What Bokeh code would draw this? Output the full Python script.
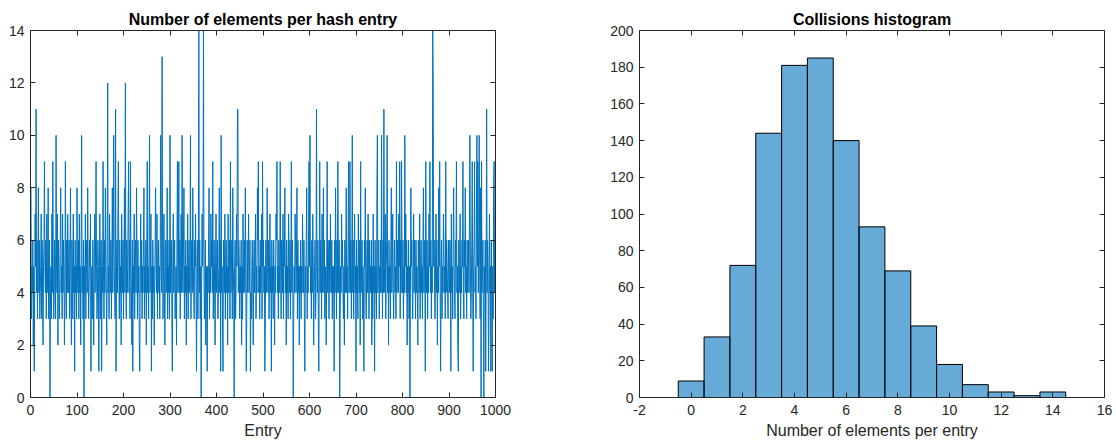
from bokeh.plotting import figure
from bokeh.layouts import row
from bokeh.models import LinearAxis, FixedTicker, Range1d, ColumnDataSource
from bokeh.embed import file_html
from bokeh.resources import INLINE

# ---- data ----
entry_values = [
    8, 3, 5, 4, 6, 2, 5, 1, 4, 7,   5, 11, 4, 6, 3, 5, 8, 4, 6, 3,
    4, 5, 7, 3, 6, 4, 2, 5, 6, 9,   5, 4, 6, 3, 7, 5, 4, 8, 3, 5,
    6, 0, 4, 5, 3, 7, 4, 9, 5, 3,
    4, 6, 5, 3, 10, 5, 4, 7, 2, 6,  5, 3, 4, 6, 8, 4, 5, 3, 7, 4,
    6, 5, 2, 4, 9, 5, 3, 6, 4, 7,   5, 4, 6, 3, 5, 8, 4, 2, 6, 5,
    3, 7, 4, 5, 1, 6, 4, 5, 3, 8,
    5, 4, 6, 3, 7, 4, 5, 2, 6, 10,  4, 5, 3, 6, 0, 5, 4, 7, 3, 5,
    6, 4, 8, 5, 3, 4, 6, 5, 7, 1,   4, 5, 3, 6, 4, 2, 5, 7, 4, 6,
    9, 5, 3, 4, 6, 5, 1, 4, 7, 5,
    3, 6, 1, 5, 4, 9, 5, 3, 6, 4,   8, 5, 4, 2, 6, 12, 4, 5, 3, 7,
    5, 4, 6, 3, 5, 8, 4, 6, 10, 5,  4, 3, 11, 1, 5, 6, 4, 7, 9, 5,
    3, 6, 4, 5, 2, 7, 5, 4, 6, 3,
    5, 8, 4, 12, 5, 3, 6, 4, 5, 7,  9, 4, 6, 3, 9, 5, 4, 2, 6, 1,
    5, 4, 7, 3, 5, 6, 4, 8, 5, 3,   6, 4, 5, 2, 1, 5, 7, 4, 6, 3,
    5, 4, 6, 8, 3, 5, 4, 6, 2, 5,
    9, 4, 5, 3, 6, 10, 4, 5, 7, 1,  5, 3, 6, 4, 5, 2, 4, 6, 8, 5,
    4, 7, 3, 5, 6, 4, 5, 3, 6, 10,  5, 4, 13, 6, 3, 5, 7, 4, 2, 5,
    6, 4, 5, 8, 3, 5, 4, 6, 3, 10,
    4, 5, 6, 3, 1, 5, 7, 4, 5, 6,   3, 4, 5, 2, 6, 9, 4, 5, 9, 4,
    6, 3, 5, 7, 4, 10, 5, 4, 6, 8,  3, 5, 4, 6, 2, 5, 4, 7, 3, 5,
    6, 4, 5, 10, 3, 5, 6, 4, 8, 5,
    4, 3, 6, 5, 7, 4, 1, 5, 6, 3,   5, 14, 4, 6, 3, 5, 0, 4, 7, 5,
    6, 14, 5, 3, 4, 6, 2, 5, 4, 1,  5, 4, 6, 8, 3, 5, 4, 7, 5, 6,
    4, 9, 3, 5, 6, 4, 2, 5, 7, 4,
    5, 6, 3, 4, 5, 8, 4, 6, 1, 10,  4, 5, 3, 1, 6, 5, 4, 7, 3, 5,
    6, 4, 5, 2, 7, 4, 5, 6, 3, 9,   4, 5, 6, 3, 8, 5, 4, 0, 5, 6,
    3, 4, 7, 5, 11, 11, 4, 6, 5, 3,
    5, 4, 6, 2, 5, 3, 7, 4, 5, 6,   4, 8, 5, 1, 3, 6, 4, 5, 7, 4,
    5, 6, 1, 4, 3, 5, 6, 4, 2, 5,   6, 4, 5, 7, 3, 5, 4, 8, 6, 9,
    4, 5, 3, 6, 4, 5, 7, 3, 9, 5,
    6, 4, 5, 1, 3, 6, 5, 4, 8, 5,   4, 6, 3, 5, 7, 4, 5, 1, 6, 4,
    5, 3, 6, 4, 2, 5, 4, 7, 6, 9,   4, 5, 3, 6, 5, 4, 9, 5, 3, 6,
    5, 4, 7, 3, 6, 5, 8, 4, 5, 2,
    6, 4, 5, 3, 7, 5, 4, 6, 3, 5,   9, 4, 6, 5, 0, 3, 5, 4, 7, 6,
    4, 5, 8, 3, 6, 4, 5, 2, 5, 4,   6, 3, 5, 4, 7, 5, 4, 6, 3, 1,
    5, 4, 6, 8, 3, 5, 4, 6, 9, 5,
    10, 4, 5, 3, 6, 4, 7, 5, 2, 4,  5, 6, 3, 4, 11, 5, 4, 6, 3, 1,
    5, 9, 4, 6, 5, 3, 7, 4, 5, 8,   4, 6, 3, 5, 4, 2, 5, 9, 4, 6,
    5, 3, 6, 4, 7, 5, 4, 6, 3, 5,
    4, 5, 1, 6, 4, 8, 5, 3, 6, 4,   9, 5, 4, 6, 0, 3, 5, 4, 7, 5,
    6, 4, 3, 5, 2, 6, 4, 5, 8, 4,   5, 3, 6, 9, 4, 5, 9, 4, 6, 3,
    5, 10, 4, 6, 3, 5, 7, 4, 5, 1,
    6, 4, 5, 3, 7, 5, 4, 6, 2, 9,   4, 5, 6, 3, 5, 4, 1, 6, 5, 8,
    4, 3, 5, 6, 4, 7, 5, 3, 6, 4,   5, 4, 6, 2, 5, 3, 7, 4, 5, 1,
    6, 4, 5, 3, 8, 10, 4, 5, 6, 3,
    5, 4, 6, 4, 10, 5, 3, 6, 4, 11, 5, 4, 7, 3, 5, 6, 10, 4, 5, 2,
    6, 4, 5, 3, 6, 8, 4, 5, 7, 4,   3, 5, 6, 4, 5, 3, 9, 4, 6, 5,
    4, 7, 5, 9, 3, 6, 4, 9, 5, 4,
    6, 3, 5, 4, 10, 5, 7, 4, 6, 2,  5, 4, 6, 3, 5, 0, 4, 8, 5, 6,
    4, 3, 5, 7, 4, 6, 5, 3, 6, 4,   5, 4, 2, 6, 5, 4, 7, 3, 5, 6,
    4, 5, 3, 6, 8, 4, 5, 6, 1, 9,
    5, 4, 6, 3, 5, 4, 7, 5, 9, 4,   6, 3, 5, 4, 14, 12, 5, 6, 4, 3,
    5, 7, 4, 6, 2, 5, 4, 8, 5, 9,   4, 1, 5, 6, 3, 5, 4, 7, 6, 4,
    5, 3, 9, 4, 6, 5, 4, 3, 6, 5,
    4, 6, 5, 1, 7, 4, 5, 3, 6, 8,   5, 4, 3, 6, 5, 9, 4, 5, 2, 1,
    6, 4, 5, 7, 3, 5, 4, 6, 5, 9,   4, 3, 6, 5, 8, 4, 5, 3, 6, 4,
    5, 6, 4, 7, 10, 5, 3, 4, 6, 9,
    4, 1, 5, 6, 9, 4, 5, 3, 7, 10,  5, 9, 4, 6, 10, 5, 3, 8, 0, 9,
    4, 5, 6, 3, 0, 5, 4, 6, 1, 5,   11, 4, 6, 5, 1, 3, 7, 4, 5, 1,
    6, 4, 1, 5, 3, 8, 9, 4, 6, 5,
]
entry_index = list(range(1, len(entry_values) + 1))

hist_bins = list(range(0, 15))
hist_counts = [9, 33, 72, 144, 181, 185, 140, 93, 69, 39, 18, 7, 3, 1, 3]

left_xticks = [0, 100, 200, 300, 400, 500, 600, 700, 800, 900, 1000]
left_yticks = [0, 2, 4, 6, 8, 10, 12, 14]
right_xticks = [-2, 0, 2, 4, 6, 8, 10, 12, 14, 16]
right_yticks = [0, 20, 40, 60, 80, 100, 120, 140, 160, 180, 200]

# ---- styling ----
AX = "#262626"
FONT = "Liberation Sans"


def style_axes(p, xticks, yticks):
    p.xgrid.visible = False
    p.ygrid.visible = False
    p.outline_line_color = None
    p.background_fill_color = "white"
    p.border_fill_color = "white"
    for ax, ticks in ((p.xaxis[0], xticks), (p.yaxis[0], yticks)):
        ax.ticker = FixedTicker(ticks=ticks)
        ax.major_label_overrides = {t: str(t) for t in ticks}
        ax.major_tick_in = 5
        ax.major_tick_out = 0
        ax.minor_tick_line_color = None
        ax.axis_line_color = AX
        ax.major_tick_line_color = AX
        ax.major_label_text_font = FONT
        ax.major_label_text_font_size = "14px"
        ax.major_label_text_color = AX
        ax.axis_label_text_font = FONT
        ax.axis_label_text_font_size = "16px"
        ax.axis_label_text_font_style = "normal"
        ax.axis_label_text_color = AX
    p.xaxis[0].major_label_standoff = 7
    p.xaxis[0].axis_label_standoff = 4
    p.yaxis[0].major_label_standoff = 6
    for loc, ticks in (("above", xticks), ("right", yticks)):
        a = LinearAxis(ticker=FixedTicker(ticks=ticks),
                       major_label_overrides={t: "" for t in ticks},
                       major_label_text_font_size="1px",
                       major_label_standoff=0,
                       major_tick_in=5, major_tick_out=0,
                       minor_tick_line_color=None,
                       axis_line_color=AX, major_tick_line_color=AX)
        p.add_layout(a, loc)
    p.title.align = "center"
    p.title.text_font = FONT
    p.title.text_font_size = "16px"
    p.title.text_font_style = "bold"
    p.title.text_color = "black"
    p.title.standoff = 5


p1 = figure(width=558, height=446, output_backend="svg", toolbar_location=None,
            x_range=Range1d(0, 1000), y_range=Range1d(0, 14),
            title="Number of elements per hash entry",
            min_border_left=30, min_border_right=63,
            min_border_top=30, min_border_bottom=49)
p1.line(entry_index, entry_values, line_color="#0072BD", line_width=1)
p1.xaxis.axis_label = "Entry"
style_axes(p1, left_xticks, left_yticks)

src = ColumnDataSource(dict(
    left=[b - 0.5 for b in hist_bins],
    right=[b + 0.5 for b in hist_bins],
    top=hist_counts,
    bottom=[0] * len(hist_bins),
))
p2 = figure(width=558, height=446, output_backend="svg", toolbar_location=None,
            x_range=Range1d(-2, 16), y_range=Range1d(0, 200),
            title="Collisions histogram",
            min_border_left=81, min_border_right=12,
            min_border_top=30, min_border_bottom=49)
p2.quad(left="left", right="right", top="top", bottom="bottom", source=src,
        fill_color="#0072BD", fill_alpha=0.6, line_color="black", line_width=1)
p2.xaxis.axis_label = "Number of elements per entry"
style_axes(p2, right_xticks, right_yticks)

layout = row(p1, p2)
open("out.html", "w").write(file_html(layout, INLINE))
